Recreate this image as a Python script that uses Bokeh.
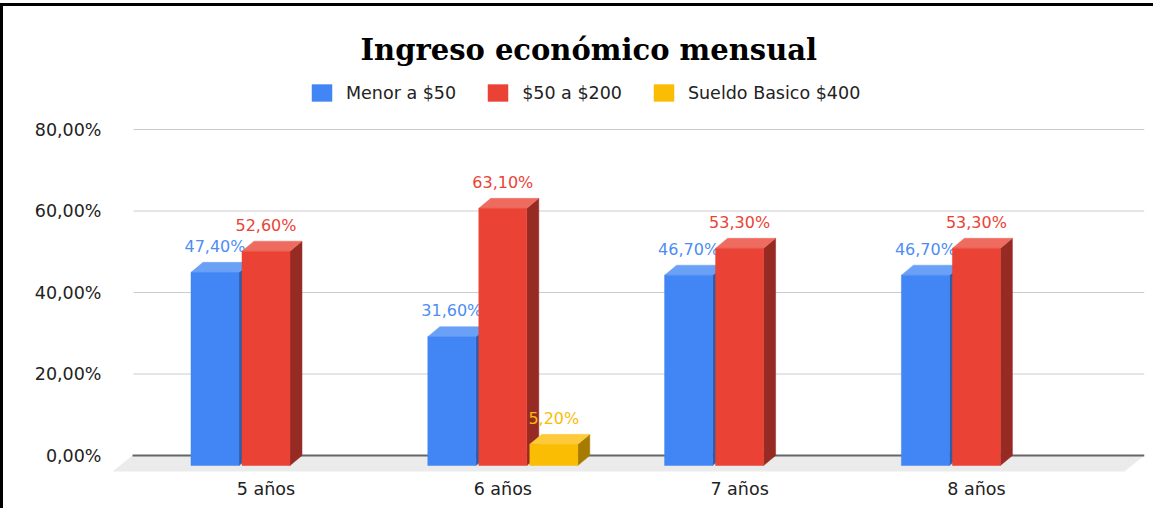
from bokeh.plotting import figure
from bokeh.models import Range1d, FixedTicker, Legend, LegendItem
from bokeh.core.properties import value
from bokeh.embed import file_html
from bokeh.resources import INLINE

# ---------------- data ----------------
categories = ["5 años", "6 años", "7 años", "8 años"]
series_names = ["Menor a $50", "$50 a $200", "Sueldo Basico $400"]
menor_50 = [47.4, 31.6, 46.7, 46.7]
de_50_a_200 = [52.6, 63.1, 53.3, 53.3]
sueldo_basico_400 = [0.0, 5.2, 0.0, 0.0]
y_ticks = [0, 20, 40, 60, 80]
y_tick_labels = ["0,00%", "20,00%", "40,00%", "60,00%", "80,00%"]
title_text = "Ingreso económico mensual"

# ---------------- styles ----------------
front_colors = ["#4285f4", "#ea4335", "#fbbc04"]
top_colors = ["#6aa0f6", "#ee6b5f", "#fcca3a"]
side_colors = ["#2d5ca8", "#962b24", "#a67c00"]
label_colors = ["#4d8df5", "#ea4335", "#fbbc04"]
SANS = "DejaVu Sans"

# ---------------- layout (pixels) ----------------
W, H = 1153, 505
BL, BR, BT, BB = 107, 12, 70, 37
FW, FH = W - BL - BR, H - BT - BB
CAT_PX = 236.8            # px between categories
FIRST_CAT_PX = 155.5      # first category centre, px from frame left
PX_PER_UNIT = 4.075       # px per percentage point
ZERO_PX = 19              # px of zero line above frame bottom

x0 = -FIRST_CAT_PX / CAT_PX
x1 = x0 + FW / CAT_PX
y0 = -ZERO_PX / PX_PER_UNIT
y1 = y0 + FH / PX_PER_UNIT

ux = 1.0 / CAT_PX          # data units per px (x)
uy = 1.0 / PX_PER_UNIT     # data units per px (y)
SLOT = 51 * ux
BW = 48 * ux
DX, DY = 12 * ux, 10 * uy          # bar depth
FDX, FDY = 20 * ux, 16 * uy        # floor depth
GRID_X0 = x0 + 23 * ux
FLOOR_X0 = x0 + 22 * ux

p = figure(width=W, height=H, output_backend="svg", toolbar_location=None,
           x_range=Range1d(x0, x1), y_range=Range1d(y0, y1),
           min_border_left=BL, min_border_right=BR,
           min_border_top=BT, min_border_bottom=BB)
p.margin = (3, 0, 0, 0)
p.styles = {"border-left": "3px solid black", "border-top": "3px solid black"}
p.outline_line_color = None
p.background_fill_color = "white"
p.border_fill_color = "white"
p.xgrid.visible = False
p.ygrid.visible = False

# title
p.title.text = title_text
p.title.text_font = "DejaVu Serif"
p.title.text_font_size = "29px"
p.title.text_font_style = "bold"
p.title.text_color = "black"
p.title.align = "left"
p.title.offset = 250
p.title.standoff = 19

# floor
p.patch([FLOOR_X0, x1, x1 - FDX, FLOOR_X0 - FDX], [0, 0, -FDY, -FDY],
        fill_color="#ebebeb", line_color=None)

# gridlines
grid_vals = [t for t in y_ticks if t != 0]
p.segment(x0=[GRID_X0] * len(grid_vals), y0=grid_vals,
          x1=[x1] * len(grid_vals), y1=grid_vals,
          line_color="#cccccc", line_width=1)
p.segment(x0=[FLOOR_X0], y0=[0], x1=[x1], y1=[0], line_color="#666666", line_width=2)

# bars
series_values = [menor_50, de_50_a_200, sueldo_basico_400]
legend_items = []
for s, vals in enumerate(series_values):
    xs_side, ys_side, xs_top, ys_top = [], [], [], []
    lefts, rights, tops, bottoms = [], [], [], []
    lx, ly, lt = [], [], []
    for i, v in enumerate(vals):
        if v <= 0:
            continue
        c = i + (s - 1) * SLOT
        l, r = c - BW / 2, c + BW / 2
        lefts.append(l); rights.append(r); tops.append(v - DY); bottoms.append(-DY)
        xs_side.append([r, r, r + DX, r + DX])
        ys_side.append([-DY, v - DY, v, 0])
        xs_top.append([l, r, r + DX, l + DX])
        ys_top.append([v - DY, v - DY, v, v])
        lx.append(c); ly.append(v)
        lt.append(f"{v:.2f}%".replace(".", ","))
    p.patches(xs_side, ys_side, fill_color=side_colors[s], line_color=side_colors[s], line_width=0.5)
    p.patches(xs_top, ys_top, fill_color=top_colors[s], line_color=top_colors[s], line_width=0.5)
    r_front = p.quad(left=lefts, right=rights, top=tops, bottom=bottoms,
                     fill_color=front_colors[s], line_color=front_colors[s], line_width=0.5)
    legend_items.append(LegendItem(label=series_names[s], renderers=[r_front]))
    p.text(x=lx, y=ly, text=lt, text_color=label_colors[s],
           text_font=value(SANS), text_font_size="16px",
           text_align="center", text_baseline="middle", y_offset=-16)

legend = Legend(items=legend_items, orientation="horizontal", location=(199, 371),
                glyph_width=25, glyph_height=21, label_standoff=12, spacing=29,
                padding=0, margin=0, border_line_color=None, background_fill_alpha=0,
                label_text_font=SANS, label_text_font_size="17.5px",
                label_text_color="#222222")
p.add_layout(legend, "center")

# axes
p.xaxis.ticker = FixedTicker(ticks=list(range(len(categories))))
p.xaxis.major_label_overrides = {i: c for i, c in enumerate(categories)}
p.yaxis.ticker = FixedTicker(ticks=y_ticks)
p.yaxis.major_label_overrides = {t: l for t, l in zip(y_ticks, y_tick_labels)}
for ax in (p.xaxis[0], p.yaxis[0]):
    ax.axis_line_color = None
    ax.major_tick_line_color = None
    ax.minor_tick_line_color = None
    ax.major_tick_out = 0
    ax.major_tick_in = 0
    ax.minor_tick_out = 0
    ax.major_label_text_font = SANS
    ax.major_label_text_font_size = "17.5px"
    ax.major_label_text_color = "#222222"
p.xaxis.major_label_standoff = 4
p.yaxis.major_label_standoff = 9

open("out.html", "w").write(file_html(p, INLINE))
